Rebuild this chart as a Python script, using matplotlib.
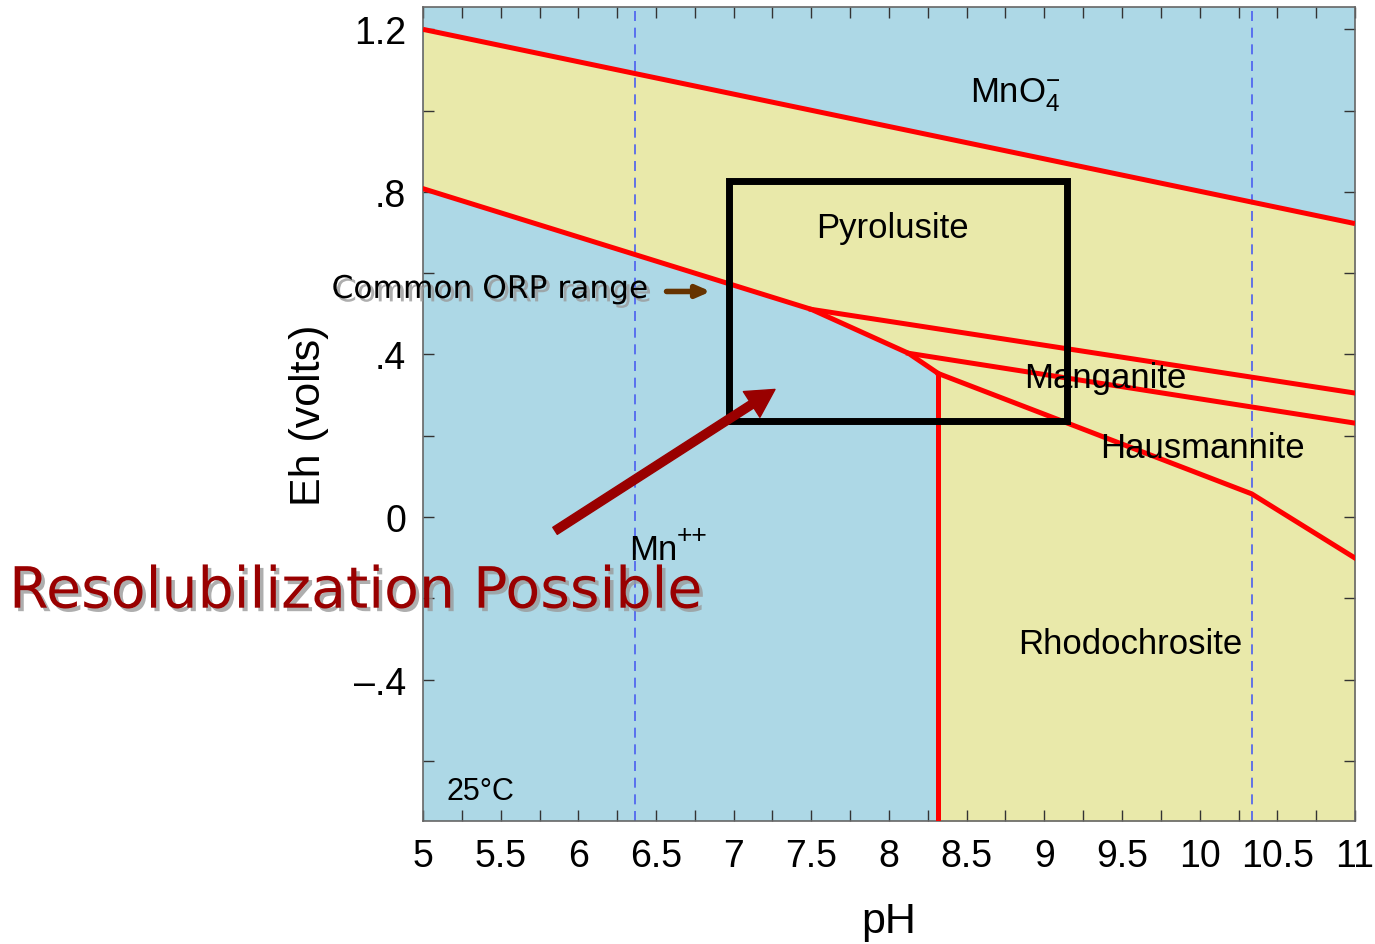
import matplotlib
matplotlib.use('Agg')
import matplotlib.pyplot as plt
import matplotlib.patheffects as pe
from matplotlib.patches import Rectangle
from matplotlib.ticker import MultipleLocator, FixedLocator

plt.rcParams['font.family'] = ['Liberation Sans', 'DejaVu Sans']

# phase boundaries (Mn, 25 C)
ph_upper = [5, 11]
eh_upper = [1.2, 0.722]
ph_mn = [5, 7.5, 8.125, 8.318]
eh_mn = [0.808, 0.511, 0.403, 0.353]
ph_pyro_mang = [7.5, 11]
eh_pyro_mang = [0.511, 0.305]
ph_mang_haus = [8.125, 11]
eh_mang_haus = [0.403, 0.231]
ph_rhodo = [8.318, 10.335, 11]
eh_rhodo = [0.353, 0.057, -0.101]
ph_carbonate = 8.318
ph_dashed = [6.365, 10.335]

# common ORP range box
box_ph = [6.972, 9.144]
box_eh = [0.237, 0.826]

xlim = (5, 11)
ylim = (-0.748, 1.255)
yticks = [-0.4, 0, 0.4, 0.8, 1.2]
yticklabels = ['\u2013.4', '0', '.4', '.8', '1.2']
xticks = [5, 5.5, 6, 6.5, 7, 7.5, 8, 8.5, 9, 9.5, 10, 10.5, 11]
xticklabels = ['5', '5.5', '6', '6.5', '7', '7.5', '8', '8.5', '9', '9.5', '10', '10.5', '11']

blue = '#add8e6'
yellow = '#e9e9aa'
red = '#ff0000'

fig = plt.figure(figsize=(13.75, 9.45), dpi=100)
ax = fig.add_axes([423/1375, 1-822/945, 932/1375, 814/945])
ax.set_facecolor(blue)

# yellow (solid phases) region between upper line and Mn++ / bottom
fill_x = ph_mn + [ph_carbonate, xlim[1]]
fill_lo = eh_mn + [ylim[0], ylim[0]]
up_slope = (eh_upper[1] - eh_upper[0]) / (ph_upper[1] - ph_upper[0])
fill_hi = [eh_upper[0] + up_slope * (p - ph_upper[0]) for p in fill_x]
ax.fill_between(fill_x, fill_lo, fill_hi, color=yellow, lw=0, zorder=1)

for x in ph_dashed:
    ax.axvline(x, color='#4a5ef0', lw=1.2, ls=(0, (6, 4)), zorder=2)

lw = 3.6
ax.plot(ph_upper, eh_upper, color=red, lw=lw, zorder=3, solid_capstyle='butt')
ax.plot(ph_mn, eh_mn, color=red, lw=lw, zorder=3)
ax.plot(ph_pyro_mang, eh_pyro_mang, color=red, lw=lw, zorder=3)
ax.plot(ph_mang_haus, eh_mang_haus, color=red, lw=lw, zorder=3)
ax.plot(ph_rhodo, eh_rhodo, color=red, lw=lw, zorder=3)
ax.plot([ph_carbonate, ph_carbonate], [ylim[0], eh_mn[-1]], color=red, lw=lw, zorder=3)

ax.add_patch(Rectangle((box_ph[0], box_eh[0]), box_ph[1]-box_ph[0], box_eh[1]-box_eh[0],
                       fill=False, ec='black', lw=5, zorder=4, joinstyle='miter'))

ax.set_xlim(xlim)
ax.set_ylim(ylim)
ax.xaxis.set_major_locator(FixedLocator(xticks))
ax.set_xticklabels(xticklabels)
ax.xaxis.set_minor_locator(MultipleLocator(0.25))
ax.yaxis.set_major_locator(FixedLocator(yticks))
ax.set_yticklabels(yticklabels)
ax.yaxis.set_minor_locator(MultipleLocator(0.2))
ax.tick_params(which='both', direction='in', top=True, right=True, length=8, width=1, color='#333333')
ax.tick_params(which='major', labelsize=27, pad=12)
for s in ax.spines.values():
    s.set_color('#666666')
    s.set_linewidth(1.2)

ax.set_xlabel('pH', fontsize=31, labelpad=20)
ax.set_ylabel('Eh (volts)', fontsize=31, labelpad=18)

fs = 25
ax.text(8.52, 1.04, 'MnO$\\mathregular{_4^{-}}$', fontsize=fs, ha='left', va='center', zorder=6)
ax.text(8.02, 0.713, 'Pyrolusite', fontsize=fs, ha='center', va='center', zorder=6)
ax.text(9.39, 0.344, 'Manganite', fontsize=fs, ha='center', va='center', zorder=6)
ax.text(10.02, 0.172, 'Hausmannite', fontsize=fs, ha='center', va='center', zorder=6)
ax.text(6.33, -0.08, 'Mn', fontsize=fs, ha='left', va='center', zorder=6)
ax.text(6.635, -0.045, '++', fontsize=19, ha='left', va='center', zorder=6)
ax.text(9.55, -0.312, 'Rhodochrosite', fontsize=fs, ha='center', va='center', zorder=6)
ax.text(5.367, -0.675, '25°C', fontsize=22, ha='center', va='center', zorder=6)

shadow = [pe.withSimplePatchShadow(offset=(2.5, -2.5), shadow_rgbFace='#9a9a9a', alpha=0.8)]
ax.text(5.431, 0.56, 'Common ORP range', fontsize=22.5, ha='center', va='center',
        family='DejaVu Sans', color='black', zorder=6, path_effects=shadow)
ax.annotate('', xy=(6.87, 0.555), xytext=(6.55, 0.555),
            arrowprops=dict(arrowstyle='-|>,head_length=0.8,head_width=0.35', color='#663300', lw=4),
            zorder=6)
ax.annotate('', xy=(7.266, 0.314), xytext=(5.85, -0.034),
            arrowprops=dict(facecolor='#990000', edgecolor='#990000', width=6, headwidth=22, headlength=20),
            zorder=6)
ax.text(4.57, -0.185, 'Resolubilization Possible', fontsize=41, ha='center', va='center',
        family='DejaVu Sans', color='#990000', zorder=7, path_effects=shadow)

fig.savefig('out.png', dpi=100)
